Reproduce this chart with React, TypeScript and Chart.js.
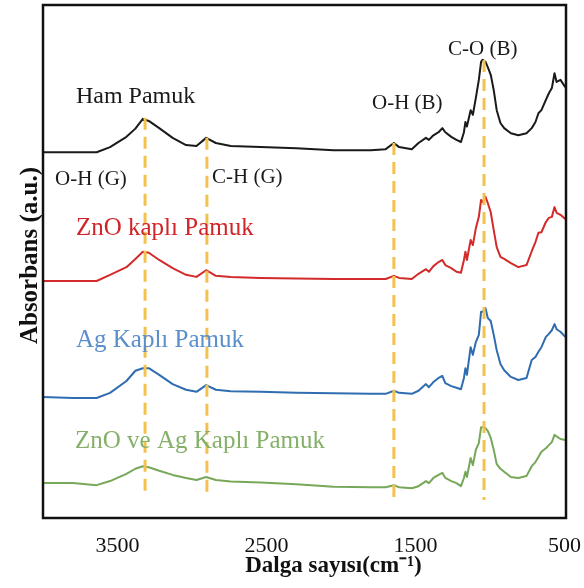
import { useEffect, useRef } from 'react';
import { Chart, registerables } from 'chart.js';

Chart.register(...registerables);

// Wavenumber grid (cm-1)
const waveNumbers = [4000, 3800, 3640, 3550, 3440, 3380, 3330, 3290, 3220, 3130, 3040, 2970, 2905, 2840, 2740, 2540, 2300, 2050, 1800, 1700, 1645, 1610, 1525, 1480, 1430, 1410, 1380, 1345, 1320, 1300, 1260, 1225, 1195, 1175, 1165, 1155, 1130, 1115, 1095, 1075, 1060, 1050, 1030, 1015, 995, 975, 955, 930, 905, 860, 810, 755, 720, 695, 675, 655, 625, 605, 585, 567, 553, 527, 495];

// Absorbance (a.u., stacked with offsets)
const hamPamuk = [71.3, 71.3, 71.3, 72.3, 74.3, 75.9, 77.8, 77.4, 76.0, 74.1, 72.7, 72.5, 74.1, 73.1, 72.5, 72.3, 72.1, 71.7, 71.7, 71.9, 73.1, 72.3, 71.9, 73.1, 74.1, 73.7, 74.6, 75.2, 76.0, 75.2, 74.3, 73.7, 73.3, 75.2, 77.2, 76.3, 79.5, 78.6, 81.9, 85.4, 88.9, 89.3, 88.9, 87.9, 86.4, 83.4, 79.5, 77.0, 76.0, 75.0, 74.6, 75.0, 76.0, 77.2, 78.9, 79.5, 81.5, 82.8, 83.8, 86.7, 85.0, 85.4, 84.0];
const znoPamuk = [46.2, 46.2, 46.2, 47.4, 48.9, 50.5, 51.9, 51.7, 50.3, 48.7, 47.4, 47.0, 48.3, 47.2, 47.0, 46.8, 46.7, 46.6, 46.6, 46.6, 47.2, 46.8, 46.6, 47.6, 48.5, 48.0, 49.1, 49.9, 50.3, 49.3, 48.7, 48.0, 47.8, 50.3, 51.9, 50.3, 54.2, 53.2, 56.5, 58.7, 62.0, 61.6, 62.6, 61.4, 59.6, 56.1, 52.8, 50.9, 50.5, 49.7, 48.9, 49.3, 52.0, 53.8, 55.6, 55.7, 57.7, 58.5, 58.7, 60.6, 59.5, 59.1, 58.3];
const agPamuk = [23.6, 23.4, 23.4, 24.4, 26.7, 28.7, 29.2, 29.2, 27.9, 26.1, 25.0, 24.6, 25.9, 25.0, 24.7, 24.6, 24.4, 24.3, 24.2, 24.2, 24.8, 24.4, 24.2, 24.8, 26.1, 25.5, 26.5, 27.3, 27.7, 26.3, 25.7, 25.4, 25.1, 27.3, 29.2, 27.9, 33.3, 31.8, 34.3, 35.7, 40.2, 40.2, 40.9, 39.0, 38.4, 35.7, 32.7, 30.0, 28.8, 27.5, 26.9, 27.3, 30.8, 31.4, 32.4, 33.3, 35.3, 35.9, 36.6, 37.8, 36.8, 36.3, 35.3];
const znoAgPamuk = [6.8, 6.8, 6.4, 7.2, 8.6, 9.6, 10.1, 9.9, 9.2, 8.4, 7.8, 7.4, 8.0, 7.4, 7.1, 6.9, 6.6, 6.1, 6.0, 6.0, 6.4, 6.0, 5.8, 6.2, 7.2, 6.8, 7.8, 8.4, 8.8, 7.8, 7.2, 6.8, 6.2, 7.8, 9.0, 8.0, 11.7, 10.3, 13.3, 14.6, 17.7, 17.7, 17.5, 17.0, 15.6, 13.3, 10.5, 9.6, 9.0, 8.0, 7.8, 8.2, 10.1, 10.9, 11.9, 12.9, 13.6, 14.2, 14.8, 16.2, 15.9, 15.4, 15.2];

// Band marker lines
const markerWaves = [3315, 2900, 1645, 1040];
const markerTops = [78.0, 74.1, 73.1, 89.3];
const markerBottoms = [4.1, 4.1, 4.1, 3.5];

// Tick labels
const xTickValues = [3500, 2500, 1500, 500];

// Text labels
const labelTexts = ['Ham Pamuk', 'O-H (G)', 'C-H (G)', 'O-H (B)', 'C-O (B)', 'ZnO kaplı Pamuk', 'Ag Kaplı Pamuk', 'ZnO ve Ag Kaplı Pamuk'];
const labelWaves = [3779, 3919, 2866, 1792, 1282, 3779, 3779, 3785];
const labelValues = [80.9, 64.9, 65.3, 79.7, 90.3, 55.2, 33.3, 13.6];

const X_TITLE = 'Dalga sayısı(cm⁻¹)';
const Y_TITLE = 'Absorbans (a.u.)';

const SERIF = "'Liberation Serif', 'Times New Roman', serif";
const labelColors = ['#1a1a1a', '#1a1a1a', '#1a1a1a', '#1a1a1a', '#1a1a1a', '#D02428', '#5B8FCB', '#84B068'];
const labelSizes = [24, 21, 21, 21, 21, 25, 25, 25];

export default function App() {
  const ref = useRef<HTMLCanvasElement | null>(null);

  useEffect(() => {
    if (!ref.current) return;
    const pts = (ys: number[]) => waveNumbers.map((x, i) => ({ x, y: ys[i] }));

    const markerSets = markerWaves.map((w, i) => ({
      label: 'marker' + i,
      data: [{ x: w, y: markerTops[i] }, { x: w, y: markerBottoms[i] }],
      borderColor: '#F2C14E',
      borderWidth: 3,
      borderDash: [12, 7],
      pointRadius: 0,
      fill: false,
    }));

    const series = [
      { label: 'Ham Pamuk', data: pts(hamPamuk), color: '#1a1a1a' },
      { label: 'ZnO kaplı Pamuk', data: pts(znoPamuk), color: '#D32A2A' },
      { label: 'Ag Kaplı Pamuk', data: pts(agPamuk), color: '#2F6DB0' },
      { label: 'ZnO ve Ag Kaplı Pamuk', data: pts(znoAgPamuk), color: '#77A85A' },
    ].map((s) => ({
      label: s.label,
      data: s.data,
      borderColor: s.color,
      borderWidth: 2,
      pointRadius: 0,
      tension: 0,
      fill: false,
      borderJoinStyle: 'round' as const,
    }));

    const framePlugin = {
      id: 'frameAndLabels',
      afterDatasetsDraw(chart: any) {
        const { ctx, chartArea, scales } = chart;
        ctx.save();
        labelTexts.forEach((t, i) => {
          ctx.font = `${labelSizes[i]}px ${SERIF}`;
          ctx.fillStyle = labelColors[i];
          ctx.textAlign = 'left';
          ctx.textBaseline = 'alphabetic';
          ctx.fillText(t, scales.x.getPixelForValue(labelWaves[i]), scales.y.getPixelForValue(labelValues[i]));
        });
        ctx.strokeStyle = '#111';
        ctx.lineWidth = 2.5;
        ctx.strokeRect(chartArea.left, chartArea.top, chartArea.right - chartArea.left, chartArea.bottom - chartArea.top);

        // axis titles
        ctx.fillStyle = '#111';
        ctx.font = `bold 23px ${SERIF}`;
        ctx.textAlign = 'center';
        ctx.textBaseline = 'alphabetic';
        const cx = (chartArea.left + chartArea.right) / 2 + 29;
        ctx.fillText(X_TITLE, cx, chartArea.bottom + 54);

        ctx.font = `bold 25px ${SERIF}`;
        ctx.translate(chartArea.left - 6, (chartArea.top + chartArea.bottom) / 2 - 6);
        ctx.rotate(-Math.PI / 2);
        ctx.fillText(Y_TITLE, 0, 0);
        ctx.restore();
      },
    };

    const chart = new Chart(ref.current, {
      type: 'line',
      data: { datasets: [...markerSets, ...series] as any },
      options: {
        animation: false,
        responsive: false,
        maintainAspectRatio: false,
        layout: { padding: { left: 0, right: 18, top: 5, bottom: 0 } },
        plugins: { legend: { display: false }, tooltip: { enabled: false }, title: { display: false } },
        scales: {
          x: {
            type: 'linear',
            reverse: true,
            min: 490,
            max: 4000,
            grid: { display: false, drawTicks: false },
            border: { display: false },
            afterBuildTicks: (axis: any) => {
              axis.ticks = xTickValues.map((v) => ({ value: v }));
            },
            afterFit: (axis: any) => {
              axis.height = 70;
              axis.paddingLeft = 0;
              axis.paddingRight = 0;
            },
            ticks: {
              color: '#111',
              padding: 19,
              maxRotation: 0,
              autoSkip: false,
              font: { family: SERIF, size: 22, lineHeight: 0.8 },
              callback: (v: any) => String(v),
            },
            title: { display: false },
          },
          y: {
            type: 'linear',
            min: 0,
            max: 100,
            grid: { display: false, drawTicks: false },
            border: { display: false },
            ticks: { display: false },
            afterFit: (axis: any) => {
              axis.width = 43;
            },
            title: { display: false },
          },
        },
      },
      plugins: [framePlugin],
    });

    return () => chart.destroy();
  }, []);

  return (
    <div style={{ position: 'fixed', left: 0, top: 0, width: 584, height: 588, background: '#fff' }}>
      <canvas ref={ref} width={584} height={588} style={{ display: 'block' }} />
    </div>
  );
}
